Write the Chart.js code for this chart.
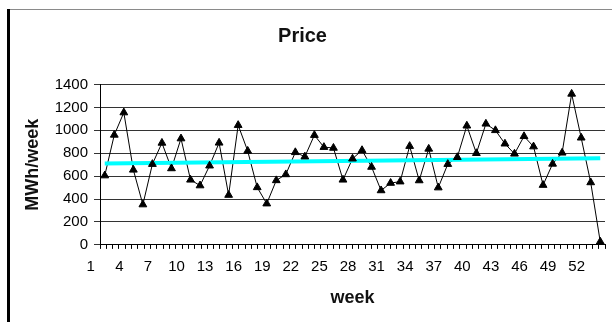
<!DOCTYPE html>
<html>
<head>
<meta charset="utf-8">
<script src="https://cdn.jsdelivr.net/npm/chart.js@4/dist/chart.umd.min.js"></script>
<style>
  html, body { margin: 0; padding: 0; background: #fff; }
  #wrap { position: relative; width: 612px; height: 322px; overflow: hidden; }
  #chart { position: absolute; left: 0; top: 0; }
  /* page frame around the figure */
  #frameLeft { position: absolute; left: 7px; top: 9px; width: 3px; height: 313px; background: #000; }
  #frameTop { position: absolute; left: 10px; top: 9px; width: 602px; height: 1px; background: #8a8a8a; }
</style>
</head>
<body>
<div id="wrap">
  <canvas id="chart" width="612" height="322"></canvas>
  <div id="frameLeft"></div>
  <div id="frameTop"></div>
</div>
<script>
// Weekly values
const weeks = [1, 2, 3, 4, 5, 6, 7, 8, 9, 10, 11, 12, 13, 14, 15, 16, 17, 18, 19, 20,
  21, 22, 23, 24, 25, 26, 27, 28, 29, 30, 31, 32, 33, 34, 35, 36, 37, 38, 39, 40,
  41, 42, 43, 44, 45, 46, 47, 48, 49, 50, 51, 52, 53];
const price = [605, 960, 1155, 655, 352, 705, 890, 667, 928, 568, 518, 691, 891, 435, 1045, 820,
  502, 360, 563, 615, 808, 770, 958, 853, 846, 568, 752, 826, 680, 475, 540, 552,
  862, 562, 838, 500, 705, 765, 1040, 800, 1057, 1000, 883, 795, 948, 858, 522, 707,
  804, 1318, 935, 545, 28];

// Linear trend endpoints (first and last week)
const trendWeeks = [1, 53];
const trendValues = [710, 757];

// Axis labels
const weekTickLabels = [1, 4, 7, 10, 13, 16, 19, 22, 25, 28, 31, 34, 37, 40, 43, 46, 49, 52];
const yTicks = [0, 200, 400, 600, 800, 1000, 1200, 1400];
const axisTickMarks = 80; // minor tick intervals along the week axis

const FONT = '"Liberation Sans", Arial, Helvetica, sans-serif';

const pricePoints = weeks.map((w, i) => ({ x: w, y: price[i] }));
const trendPoints = trendWeeks.map((w, i) => ({ x: w, y: trendValues[i] }));

new Chart(document.getElementById('chart'), {
  type: 'line',
  data: {
    datasets: [
      {
        label: 'Price',
        data: pricePoints,
        xAxisID: 'x',
        borderColor: '#000',
        borderWidth: 1,
        pointRadius: 0,
        tension: 0,
        order: 3
      },
      {
        label: 'Trend',
        data: trendPoints,
        xAxisID: 'x',
        borderColor: '#00ffff',
        borderWidth: 4,
        pointRadius: 0,
        tension: 0,
        order: 2
      },
      {
        label: 'Price markers',
        data: pricePoints,
        xAxisID: 'x',
        showLine: false,
        pointStyle: 'triangle',
        pointRadius: 4.5,
        pointBackgroundColor: '#000',
        pointBorderColor: '#000',
        pointBorderWidth: 1,
        order: 1
      }
    ]
  },
  options: {
    responsive: false,
    animation: false,
    devicePixelRatio: 1,
    layout: { padding: { left: 0, right: 7, top: 0, bottom: 0 } },
    plugins: {
      legend: { display: false },
      tooltip: { enabled: false },
      title: {
        display: true,
        text: 'Price',
        color: '#111',
        font: { family: FONT, size: 20, weight: 'bold', lineHeight: 1.2 },
        padding: { top: 24, bottom: 36.5 }
      }
    },
    scales: {
      y: {
        min: 0,
        max: 1400,
        afterBuildTicks: (s) => { s.ticks = yTicks.map(v => ({ value: v })); },
        afterFit: (s) => { s.width = 100; },
        ticks: {
          color: '#000',
          font: { family: FONT, size: 15 },
          padding: 6,
          callback: (v) => String(v)
        },
        grid: { color: '#333', lineWidth: 1, tickLength: 6 },
        border: { color: '#000', width: 1 },
        title: {
          display: true,
          text: 'MWh/week',
          color: '#111',
          font: { family: FONT, size: 18, weight: 'bold', lineHeight: 1.2 },
          padding: { top: 22, bottom: 0 }
        }
      },
      xt: {
        type: 'linear',
        position: 'bottom',
        weight: 0,
        min: 0,
        max: axisTickMarks,
        afterBuildTicks: (s) => {
          const t = [];
          for (let i = 0; i <= axisTickMarks; i++) t.push({ value: i });
          s.ticks = t;
        },
        ticks: { display: false },
        grid: { drawOnChartArea: false, drawTicks: true, tickLength: 4, color: '#000', lineWidth: 1 },
        border: { display: true, color: '#000', width: 1 }
      },
      x: {
        type: 'linear',
        position: 'bottom',
        weight: 1,
        min: 0.5,
        max: 53.5,
        afterBuildTicks: (s) => { s.ticks = weekTickLabels.map(v => ({ value: v })); },
        ticks: {
          color: '#000',
          font: { family: FONT, size: 15 },
          padding: 9,
          labelOffset: -14,
          autoSkip: false,
          maxRotation: 0,
          callback: (v) => String(v)
        },
        grid: { display: false, drawTicks: false },
        border: { display: false },
        title: {
          display: true,
          text: 'week',
          color: '#111',
          font: { family: FONT, size: 18, weight: 'bold', lineHeight: 1.2 },
          padding: { top: 2.5, bottom: 13 }
        }
      }
    }
  }
});
</script>
</body>
</html>
